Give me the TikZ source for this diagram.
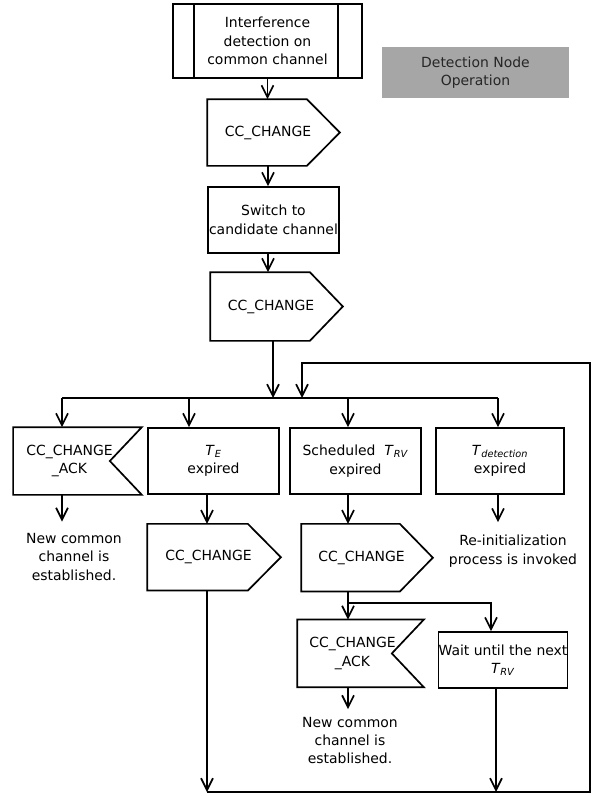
\documentclass[tikz,border=0pt]{standalone}
\usepackage{fontspec}
\setmainfont{DejaVu Sans}
\usetikzlibrary{arrows.meta,positioning}
\definecolor{notegray}{HTML}{A6A6A6}
\newcommand{\tsub}[1]{\textit{T}\textsubscript{\textit{#1}}}

\begin{document}
\begin{tikzpicture}[x=1bp,y=-1bp,->,>={Straight Barb[length=4.2mm,width=4.2mm]},line width=1.7bp,
    font=\fontsize{14}{18.5}\selectfont,
    box node/.style={draw,rectangle,align=center,inner sep=0pt,minimum width=131bp,minimum height=66bp},
    send node/.style={rectangle,align=center,inner sep=0pt,minimum width=120bp,minimum height=65bp,
      append after command={\pgfextra{\draw[-] (\tikzlastnode.north west) -- ([xshift=-22bp]\tikzlastnode.north east)
        -- ([xshift=11bp]\tikzlastnode.east) -- ([xshift=-22bp]\tikzlastnode.south east) -- (\tikzlastnode.south west) -- cycle;}}},
    recv node/.style={rectangle,align=center,inner sep=0pt,minimum width=111bp,minimum height=66bp,
      append after command={\pgfextra{\draw[-] (\tikzlastnode.north west) -- ([xshift=16bp]\tikzlastnode.north east)
        -- ([xshift=-16bp]\tikzlastnode.east) -- ([xshift=16bp]\tikzlastnode.south east) -- (\tikzlastnode.south west) -- cycle;}}},
    text node/.style={align=center,inner sep=0pt}]
  \useasboundingbox (0,0) rectangle (595,796);

  \node[box node,minimum width=189bp,minimum height=74bp] (intf) at (267.5,41) {Interference\\detection on\\common channel};
  \draw[-] ([xshift=22bp]intf.north west) -- ([xshift=22bp]intf.south west)
           ([xshift=-25bp]intf.north east) -- ([xshift=-25bp]intf.south east);
  \node[fill=notegray,text=black!85,align=center,minimum width=187bp,minimum height=51bp] (title) at (475.5,72.5) {Detection Node\\Operation};

  \node[send node] (cc1) at (268,132.5) {CC\_CHANGE};
  \node[box node] (sw) at (273.5,220) {Switch to\\candidate channel};
  \node[send node,minimum height=67bp] (cc2) at (271,306.5) {CC\_CHANGE};

  \node[recv node] (ack1) at (69.5,461) {CC\_CHANGE\\\_ACK};
  \node[box node] (te) at (213.5,461) {\tsub{E}\\expired};
  \node[box node] (trv) at (355.5,461) {Scheduled \ \tsub{RV}\\expired};
  \node[box node,minimum width=128bp] (tdet) at (500,461) {\tsub{detection}\\expired};

  \node[text node] (est1) at (74,557) {New common\\channel is\\established.};
  \node[send node,minimum width=121bp,below=29bp of te,xshift=-5bp] (cc3) {CC\_CHANGE};
  \node[send node,minimum width=119bp,minimum height=66bp,below=29bp of trv,xshift=6bp] (cc4) {CC\_CHANGE};
  \node[text node] (reinit) at (513,551) {Re-initialization\\process is invoked};
  \node[recv node,minimum width=109bp,below=28bp of cc4,xshift=-9bp] (ack2) {CC\_CHANGE\\\_ACK};
  \node[box node,minimum width=128bp,minimum height=56bp] (wait) at (503,660) {Wait until the next\\\tsub{RV}};
  \node[text node] (est2) at (350,740.5) {New common\\channel is\\established.};

  \coordinate (br) at (273,398);
  \coordinate (b1) at (62,398);
  \coordinate (b2) at (189,398);
  \coordinate (b3) at (348,398);
  \coordinate (b4) at (498,398);
  \coordinate (back) at (302,398);
  \coordinate (nw) at (302,363);
  \coordinate (ne) at (590,363);
  \coordinate (se) at (590,792);
  \coordinate (out1) at (207,792);
  \coordinate (out2) at (496,792);
  \coordinate (sp) at (348,603);
  \coordinate (wt) at (491,603);

  \draw (intf.south) -- (intf.south |- cc1.north);
  \draw (cc1.south) -- (cc1.south |- sw.north);
  \draw (cc1.south |- sw.south) -- (cc1.south |- cc2.north);
  \draw (cc2.south -| br) -- (br);
  \draw[-] (b1) -- (b4);
  \draw (b1) -- (b1 |- ack1.north);
  \draw (b2) -- (b2 |- te.north);
  \draw (b3) -- (b3 |- trv.north);
  \draw (b4) -- (b4 |- tdet.north);

  \draw[shorten >=11bp] (b1 |- ack1.south) -- (b1 |- est1.north);
  \draw (out1 |- te.south) -- (out1 |- cc3.north);
  \draw (out1 |- cc3.south) -- (out1);
  \draw (b3 |- trv.south) -- (b3 |- cc4.north);
  \draw[shorten >=12bp] (b4 |- tdet.south) -- (b4 |- reinit.north);
  \draw (b3 |- cc4.south) -- (b3 |- ack2.north);
  \draw (sp) -- (wt) -- (wt |- wait.north);
  \draw[shorten >=7bp] (b3 |- ack2.south) -- (b3 |- est2.north);
  \draw (out2 |- wait.south) -- (out2);
  \draw (out1) -- (se) -- (ne) -- (nw) -- (back);
\end{tikzpicture}
\end{document}
